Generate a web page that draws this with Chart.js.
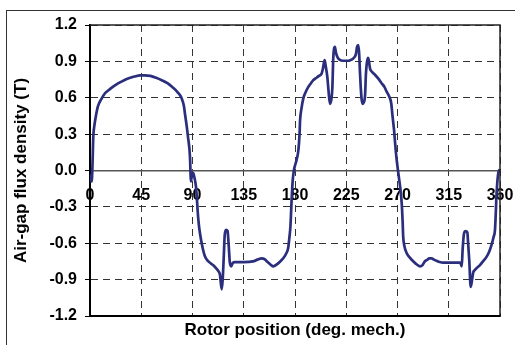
<!DOCTYPE html>
<html lang="en">
<head>
    <meta charset="UTF-8">
    <title>Air-gap flux density</title>
    <script src="https://cdn.jsdelivr.net/npm/chart.js"></script>
    <style>
        html, body {
            margin: 0;
            padding: 0;
            background: #fff;
            overflow: hidden;
        }
        #frame {
            position: absolute;
            left: 6px;
            top: 10px;
            width: 600px;
            height: 400px;
            border: 1.5px solid #333;
        }
        #fluxChart {
            position: absolute;
            left: 0;
            top: 0;
        }
    </style>
</head>
<body>
    <div id="frame"></div>
    <canvas id="fluxChart" width="515" height="345"></canvas>

    <script>
        // rotor angle (deg. mech.) and measured air-gap flux density (T)
        const angleDeg = [
            0, 0.8, 1.5, 2.2, 2.9, 4, 5, 7, 10.3, 13, 16, 20, 25, 30, 34, 39, 44, 48, 53, 58,
            63, 68, 72, 77, 80.5, 82.5, 83.5, 85, 86, 87.8, 88.3, 88.6, 89.3, 90.5, 91.5, 93, 94, 94.5, 95.5, 96.6,
            98.5, 101, 104, 108, 111, 112.7, 114.1, 115.6, 116.5, 117.5, 118.3, 119.5, 120.8, 121.8, 122.8, 124, 125.5, 127.3, 135, 143,
            147, 150.7, 153, 156, 159, 161, 164, 167, 170, 172.5, 174, 175, 176, 177, 178, 179, 181.5, 183, 184, 184.5,
            185.5, 187.3, 189, 191.7, 194, 196, 198, 201, 203.4, 204.5, 206, 207, 208.4, 209.5, 210.7, 211.8, 212.8, 213.6, 214.2, 215,
            216, 217.5, 219, 222, 225.4, 228.5, 231.2, 233.5, 234.5, 235.5, 236.3, 237, 237.7, 238.6, 239.4, 240.3, 241.5, 242.3, 243, 244,
            244.8, 245.9, 248, 250.2, 253, 256, 258.5, 260.5, 262.7, 264.5, 265.5, 267, 268.7, 270.7, 272.5, 273.7, 274.5, 275, 276, 278,
            281, 284, 287, 289.8, 292, 294, 295.6, 298, 300, 302, 304.4, 307, 310.2, 318, 325, 326.4, 327.2, 328.4, 329.8, 331.3,
            332, 333, 334.3, 335.5, 336.5, 338, 340, 342.4, 345, 348.3, 350.5, 352.7, 354.3, 355.6, 356.3, 357, 358.5, 360
        ];
        const fluxT = [
            -0.03, -0.08, -0.09, 0.05, 0.28, 0.38, 0.44, 0.53, 0.595, 0.635, 0.66, 0.69, 0.72, 0.745, 0.76, 0.775, 0.785, 0.785, 0.78, 0.765,
            0.745, 0.72, 0.69, 0.645, 0.595, 0.53, 0.46, 0.36, 0.28, 0.11, -0.03, -0.09, -0.05, -0.02, -0.05, -0.13, -0.25, -0.33, -0.44, -0.52,
            -0.62, -0.71, -0.75, -0.78, -0.81, -0.83, -0.86, -0.98, -0.9, -0.7, -0.53, -0.49, -0.5, -0.62, -0.76, -0.79, -0.76, -0.755, -0.755, -0.75,
            -0.735, -0.725, -0.73, -0.755, -0.78, -0.79, -0.775, -0.75, -0.72, -0.68, -0.64, -0.56, -0.46, -0.25, -0.08, 0.0, 0.09, 0.17, 0.3, 0.42,
            0.5, 0.595, 0.64, 0.69, 0.72, 0.745, 0.76, 0.78, 0.80, 0.84, 0.91, 0.86, 0.77, 0.65, 0.55, 0.58, 0.68, 0.93, 1.0, 1.02,
            0.97, 0.93, 0.915, 0.905, 0.905, 0.91, 0.925, 0.96, 1.02, 1.035, 0.97, 0.82, 0.69, 0.58, 0.55, 0.56, 0.62, 0.8, 0.88, 0.93,
            0.91, 0.84, 0.81, 0.79, 0.76, 0.72, 0.69, 0.65, 0.61, 0.555, 0.46, 0.33, 0.14, -0.02, -0.15, -0.27, -0.42, -0.546, -0.62, -0.68,
            -0.72, -0.75, -0.775, -0.79, -0.78, -0.75, -0.74, -0.725, -0.725, -0.735, -0.745, -0.755, -0.76, -0.76, -0.76, -0.79, -0.65, -0.52, -0.5, -0.51,
            -0.6, -0.74, -0.96, -0.9, -0.84, -0.82, -0.8, -0.78, -0.75, -0.71, -0.67, -0.61, -0.55, -0.49, -0.35, -0.19, -0.02, 0.01
        ];
        const xTicks = [0, 45, 90, 135, 180, 225, 270, 315, 360];
        const yTicks = [-1.2, -0.9, -0.6, -0.3, 0.0, 0.3, 0.6, 0.9, 1.2];

        const points = angleDeg.map((a, i) => ({x: a, y: fluxT[i]}));

        // рамка области построения (верх, право, низ)
        const plotFrame = {
            id: 'plotFrame',
            afterDraw(chart) {
                const {ctx, chartArea: a} = chart;
                ctx.save();
                ctx.strokeStyle = '#222';
                ctx.lineWidth = 1.5;
                ctx.beginPath();
                ctx.moveTo(a.left, a.top);
                ctx.lineTo(a.right, a.top);
                ctx.lineTo(a.right, a.bottom);
                ctx.stroke();
                ctx.strokeStyle = '#000';
                ctx.lineWidth = 2;
                ctx.beginPath();
                ctx.moveTo(a.left - 1, a.bottom);
                ctx.lineTo(a.right + 0.75, a.bottom);
                ctx.stroke();
                ctx.restore();
            }
        };

        const font = 'Arial, "Liberation Sans", sans-serif';

        new Chart(document.getElementById('fluxChart').getContext('2d'), {
            type: 'line',
            data: {
                datasets: [{
                    data: points,
                    borderColor: '#2a2e7c',
                    borderWidth: 2.7,
                    pointRadius: 0,
                    cubicInterpolationMode: 'monotone',
                    xAxisID: 'x',
                    yAxisID: 'y'
                }]
            },
            options: {
                responsive: false,
                animation: false,
                layout: {padding: {top: 25, right: 15, bottom: 0, left: 0}},
                plugins: {
                    legend: {display: false},
                    tooltip: {enabled: false}
                },
                scales: {
                    x: {
                        type: 'linear',
                        position: {y: 0},
                        min: 0,
                        max: 360,
                        afterBuildTicks: s => { s.ticks = xTicks.map(v => ({value: v})); },
                        afterFit: s => { s.paddingLeft = 0; s.paddingRight = 0; },
                        ticks: {
                            color: '#000',
                            padding: 15,
                            maxRotation: 0,
                            font: {family: font, size: 16, weight: 'bold'},
                            callback: v => String(v)
                        },
                        grid: {color: '#333', lineWidth: 1, drawTicks: false},
                        border: {display: true, color: '#555', width: 1.5, dash: [7, 5]}
                    },
                    xb: {
                        type: 'linear',
                        position: 'bottom',
                        min: 0,
                        max: 360,
                        afterFit: s => { s.height = 29; s.paddingLeft = 0; s.paddingRight = 0; },
                        ticks: {display: false},
                        grid: {display: false, drawTicks: false},
                        border: {display: false},
                        title: {
                            display: true,
                            text: 'Rotor position (deg. mech.)',
                            color: '#000',
                            padding: {top: 0, bottom: 4},
                            font: {family: font, size: 17, weight: 'bold'}
                        }
                    },
                    y: {
                        type: 'linear',
                        position: 'left',
                        min: -1.2,
                        max: 1.2,
                        afterFit: s => { s.width = 90; },
                        afterBuildTicks: s => { s.ticks = yTicks.map(v => ({value: v})); },
                        ticks: {
                            color: '#000',
                            padding: 8,
                            font: {family: font, size: 16, weight: 'bold'},
                            callback: v => (Math.abs(v) < 1e-9 ? 0 : v).toFixed(1)
                        },
                        grid: {color: '#333', lineWidth: 1, tickLength: 5, tickColor: '#000', tickWidth: 1},
                        border: {display: true, color: '#000', width: 2, dash: [7, 5]},
                        title: {
                            display: true,
                            text: 'Air-gap flux density (T)',
                            color: '#000',
                            padding: {top: 11, bottom: 0},
                            font: {family: font, size: 17, weight: 'bold'}
                        }
                    }
                }
            },
            plugins: [plotFrame]
        });
    </script>
</body>
</html>
